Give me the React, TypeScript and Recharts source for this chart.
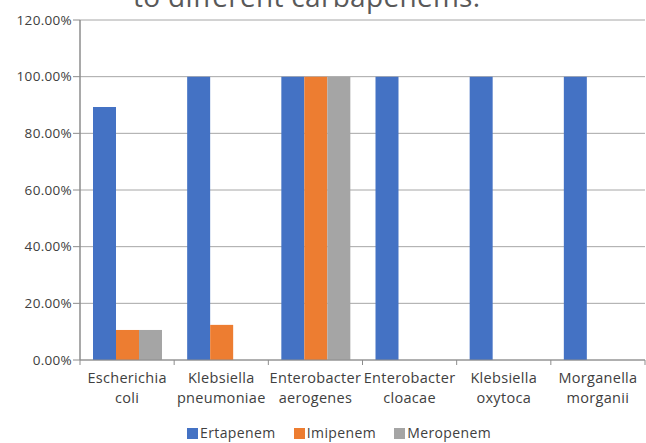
import type { FC } from "react";
import {
	Bar,
	BarChart,
	CartesianGrid,
	Legend,
	XAxis,
	YAxis,
} from "recharts";

const categories = [
	["Escherichia", "coli"],
	["Klebsiella", "pneumoniae"],
	["Enterobacter", "aerogenes"],
	["Enterobacter", "cloacae"],
	["Klebsiella", "oxytoca"],
	["Morganella", "morganii"],
];
const ertapenem = [89.3, 100, 100, 100, 100, 100];
const imipenem = [10.6, 12.4, 100, 0, 0, 0];
const meropenem = [10.6, 0, 100, 0, 0, 0];
const yTicks = [0, 20, 40, 60, 80, 100, 120];

const SERIES = [
	{ key: "Ertapenem", color: "#4472C4" },
	{ key: "Imipenem", color: "#ED7D31" },
	{ key: "Meropenem", color: "#A5A5A5" },
];

const data = categories.map((c, i) => ({
	name: c.join("\n"),
	Ertapenem: ertapenem[i],
	Imipenem: imipenem[i],
	Meropenem: meropenem[i],
}));

const FONT = "'Open Sans', sans-serif";
const BAND = 565 / 6;

const CategoryTick: FC<any> = ({ x, y, payload, index }) => {
	const lines = String(payload.value).split("\n");
	return (
		<g>
			<line x1={x - BAND / 2} x2={x - BAND / 2} y1={y - 8} y2={y - 3} stroke="#8c8c8c" />
			{index === categories.length - 1 && (
				<line x1={x + BAND / 2} x2={x + BAND / 2} y1={y - 8} y2={y - 3} stroke="#8c8c8c" />
			)}
			<text
				x={x}
				y={y}
				textAnchor="middle"
				fill="#404040"
				fontSize={14.5}
				letterSpacing={0.3}
				fontFamily={FONT}
			>
				{lines.map((l, i) => (
					<tspan key={i} x={x} dy={i === 0 ? 15 : 20}>
						{l}
					</tspan>
				))}
			</text>
		</g>
	);
};

const LegendContent: FC = () => (
	<div
		style={{
			display: "flex",
			justifyContent: "flex-start",
			paddingLeft: 187,
			paddingTop: 4,
			fontFamily: FONT,
			fontSize: 14,
			letterSpacing: 0.4,
			color: "#404040",
			lineHeight: "18px",
		}}
	>
		{SERIES.map((s) => (
			<span key={s.key} style={{ display: "flex", alignItems: "center", marginRight: 18 }}>
				<span style={{ width: 11, height: 11, background: s.color, marginRight: 2, display: "inline-block" }} />
				{s.key}
			</span>
		))}
	</div>
);

export default function App() {
	return (
		<div style={{ position: "absolute", left: 0, top: 0, width: 646, height: 443, background: "#fff", overflow: "hidden" }}>
			<div
				style={{
					position: "absolute",
					left: 133,
					top: -18,
					fontFamily: FONT,
					fontSize: 28,
					letterSpacing: 0.3,
					lineHeight: "28px",
					color: "#595959",
					whiteSpace: "nowrap",
				}}
			>
				to different carbapenems.
			</div>
			<BarChart
				width={646}
				height={443}
				data={data}
				margin={{ top: 20, right: 1, left: 0, bottom: 0 }}
				barCategoryGap={13}
				barGap={0}
			>
				<CartesianGrid vertical={false} stroke="#a6a6a6" />
				<XAxis
					dataKey="name"
					height={60}
					axisLine={{ stroke: "#8c8c8c" }}
					tickLine={false}
					tick={<CategoryTick />}
					interval={0}
				/>
				<YAxis
					width={80}
					domain={[0, 120]}
					ticks={yTicks}
					tickFormatter={(v: number) => `${v.toFixed(2)}%`}
					axisLine={{ stroke: "#8c8c8c", strokeWidth: 1.5 }}
					tickLine={{ stroke: "#8c8c8c" }}
					tickSize={7}
					tickMargin={1}
					tick={{ fill: "#404040", fontSize: 13.5, letterSpacing: 0.3, fontFamily: FONT }}
				/>
				<Legend verticalAlign="bottom" height={23} content={<LegendContent />} />
				{SERIES.map((s) => (
					<Bar key={s.key} dataKey={s.key} fill={s.color} isAnimationActive={false} />
				))}
			</BarChart>
		</div>
	);
}
